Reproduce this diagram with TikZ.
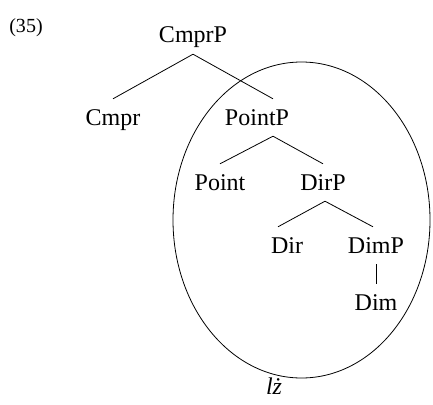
\documentclass[tikz,border=0pt]{standalone}
\usepackage{fontspec}
\setmainfont{Liberation Serif}
\usepackage{tikz}
\tikzset{
  cat/.style={anchor=base, inner xsep=1pt, inner ysep=6pt, text height=20pt, text depth=5pt, font=\fontsize{24}{28}\selectfont},
  branch/.style={line width=0.8pt},
}
\begin{document}
\begin{tikzpicture}[x=1pt,y=-1pt]
			%%%%% START %%%%%
			\useasboundingbox (0,0) rectangle (433,404);
			
			\node[anchor=base, font=\fontsize{20}{24}\selectfont] (num) at (26, 33) {(35)};
			
			\node[cat] (cmprp) at (193, 43) {CmprP};
			\node[cat] (cmpr) at (113, 125) {Cmpr};
			\node[cat] (pointp) at (257, 125) {PointP};
			\node[cat] (point) at (220, 190) {Point};
			\node[cat] (dirp) at (323, 190) {DirP};
			\node[cat] (dir) at (287, 253) {Dir};
			\node[cat] (dimp) at (376, 253) {DimP};
			\node[cat] (dim) at (376, 310) {Dim};
			
			\draw[branch] (cmprp.south) -- (cmpr.north);
			\draw[branch] (cmprp.south) -- (pointp.north -| 273,0);
			\draw[branch] (pointp.south -| 273,0) -- (point.north);
			\draw[branch] (pointp.south -| 273,0) -- (dirp.north);
			\draw[branch] (dirp.south -| 325,0) -- (dir.north -| 278,0);
			\draw[branch] (dirp.south -| 325,0) -- (dimp.north -| 373,0);
			\draw[branch] (dimp.south) -- (dim.north);
			
			\draw[branch] (301.5, 220) ellipse (128.5 and 158);
			\node[anchor=base, font=\fontsize{24}{28}\selectfont\itshape] (lz) at (274, 394) {lż};
			
			%%%%% END %%%%%
\end{tikzpicture}
\end{document}
